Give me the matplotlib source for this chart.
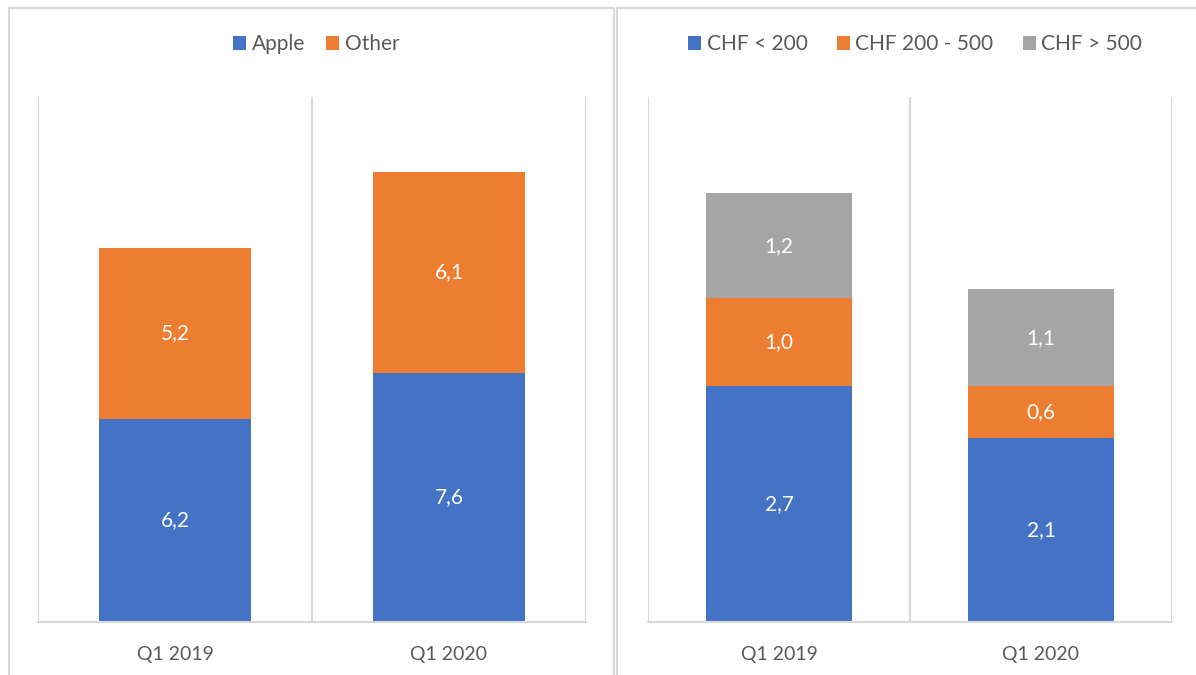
import matplotlib.pyplot as plt
from matplotlib.patches import Rectangle

# data
quarters = ['Q1 2019', 'Q1 2020']
apple = [6.2, 7.6]
other = [5.2, 6.1]
price_low = [2.7, 2.1]
price_mid = [1.0, 0.6]
price_high = [1.2, 1.1]

blue = '#4472c4'
orange = '#ed7d31'
grey = '#a5a5a5'
line_col = '#d9d9d9'
txt_col = '#595959'

plt.rcParams['font.family'] = ['Lato', 'DejaVu Sans']

fig = plt.figure(figsize=(11.96, 6.75), dpi=100)

# panel frames
fig.patches.append(Rectangle((9 / 1196, -0.01), 605 / 1196, 1 - 8 / 675 + 0.01,
                             transform=fig.transFigure, fill=False, ec=line_col, lw=1.5))
fig.patches.append(Rectangle((617 / 1196, -0.01), 590 / 1196, 1 - 8 / 675 + 0.01,
                             transform=fig.transFigure, fill=False, ec=line_col, lw=1.5))


def setup(ax, ymax):
    ax.set_xlim(-0.5, 1.5)
    ax.set_ylim(0, ymax)
    for s in ['top', 'left', 'right']:
        ax.spines[s].set_visible(False)
    ax.spines['bottom'].set_color(line_col)
    ax.spines['bottom'].set_linewidth(1.5)
    for xv in [-0.5, 0.5, 1.5]:
        ax.axvline(xv, color=line_col, lw=1.5, zorder=0)
    ax.set_yticks([])
    ax.set_xticks(range(len(quarters)))
    ax.set_xticklabels(quarters, color=txt_col, fontsize=14)
    ax.tick_params(axis='x', length=0, pad=17)


def labels(ax, bars, vals, bottoms):
    for b, v, bt in zip(bars, vals, bottoms):
        ax.text(b.get_x() + b.get_width() / 2, bt + v / 2, f'{v:.1f}'.replace('.', ','),
                ha='center', va='center', color='white', fontsize=15)


# left chart
ax1 = fig.add_axes([38 / 1196, 1 - 622 / 675, 548 / 1196, 525 / 675])
w = 0.555
b1 = ax1.bar(range(2), apple, w, color=blue, label='Apple')
b2 = ax1.bar(range(2), other, w, bottom=apple, color=orange, label='Other')
setup(ax1, 16)
labels(ax1, b1, apple, [0, 0])
labels(ax1, b2, other, apple)
ax1.legend(loc='center', bbox_to_anchor=(316 / 1196, 1 - 44 / 675), bbox_transform=fig.transFigure,
           ncol=2, frameon=False, fontsize=15, handlelength=0.65, handleheight=0.65,
           handletextpad=0.25, columnspacing=1.0, labelcolor=txt_col)

# right chart
ax2 = fig.add_axes([648 / 1196, 1 - 622 / 675, 524 / 1196, 525 / 675])
mid_bottom = price_low
high_bottom = [a + b for a, b in zip(price_low, price_mid)]
c1 = ax2.bar(range(2), price_low, w, color=blue, label='CHF < 200')
c2 = ax2.bar(range(2), price_mid, w, bottom=mid_bottom, color=orange, label='CHF 200 - 500')
c3 = ax2.bar(range(2), price_high, w, bottom=high_bottom, color=grey, label='CHF > 500')
setup(ax2, 6)
labels(ax2, c1, price_low, [0, 0])
labels(ax2, c2, price_mid, mid_bottom)
labels(ax2, c3, price_high, high_bottom)
ax2.legend(loc='center', bbox_to_anchor=(915 / 1196, 1 - 44 / 675), bbox_transform=fig.transFigure,
           ncol=3, frameon=False, fontsize=15, handlelength=0.65, handleheight=0.65,
           handletextpad=0.25, columnspacing=1.4, labelcolor=txt_col)

fig.savefig('out.png', dpi=100)
